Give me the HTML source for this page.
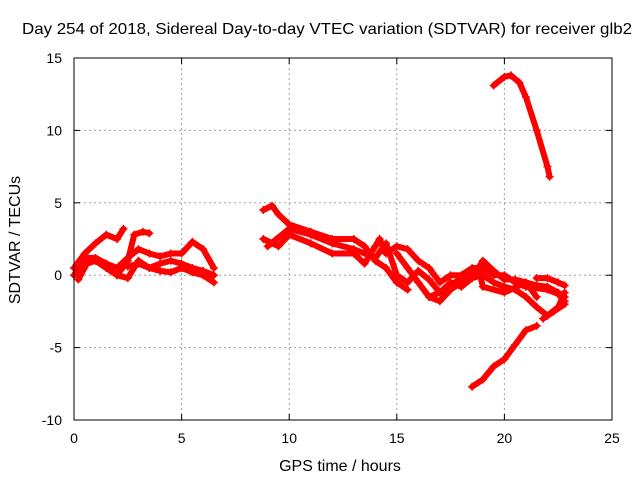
<!DOCTYPE html>
<html><head><meta charset="utf-8"><style>
body{margin:0;background:#fff;}
svg{display:block;font-family:"Liberation Sans",sans-serif;font-size:14px;}
</style></head><body>
<svg id="chart" width="640" height="480">
<rect x="0" y="0" width="640" height="480" fill="#fff"/>
<text x="22" y="34" font-size="16" textLength="610" lengthAdjust="spacingAndGlyphs">Day 254 of 2018, Sidereal Day-to-day VTEC variation (SDTVAR) for receiver glb2</text>
<text x="340" y="471" font-size="16" text-anchor="middle">GPS time / hours</text>
<text transform="translate(20,240) rotate(-90)" font-size="16" text-anchor="middle">SDTVAR / TECUs</text>
<g id="grid"></g><g id="ticks"></g><g id="series"></g>
<rect x="74" y="58" width="538" height="362" fill="none" stroke="#000" stroke-width="1"/>
</svg>
<script>
const xTicks=[0,5,10,15,20,25];
const yTicks=[-10,-5,0,5,10,15];
const tracks=[
[[0,0.5],[0.5,1.5],[1,2.2],[1.5,2.8],[2,2.5],[2.3,3.2]],
[[0,0],[0.5,1.2],[1,1.2],[1.5,0.8],[2,0.5],[2.5,1.2],[3,1.8],[3.5,1.5],[4,1.3],[4.5,1.5],[5,1.5],[5.5,2.3],[6,1.8],[6.5,0.5]],
[[0.2,-0.3],[0.6,0.8],[1,1],[1.5,0.5],[2,0],[2.5,-0.2],[3,1],[3.5,0.5],[4,0.3],[4.5,0.2],[5,0.5],[5.5,0.2],[6,0],[6.5,-0.5]],
[[2,0],[2.5,1],[2.8,2.8],[3.2,3],[3.5,2.9]],
[[2.5,0.6],[3,0.8],[3.5,0.5],[4,0.8],[4.5,1],[5,0.8],[5.5,0.5],[6,0.3],[6.5,0]],
[[8.8,4.5],[9.2,4.8],[9.5,4.2],[10,3.5],[11,3],[12,2.5],[13,2.5],[13.5,2],[14,1],[14.5,0.5],[15,-0.5],[15.5,-1]],
[[8.8,2.5],[9.5,2],[10,2.8],[11,2.2],[12,1.5],[13,1.5],[13.5,0.8],[14,2],[14.2,2.5],[14.5,1.5],[15,2],[15.5,1.8],[16,1],[16.5,0.5],[17,-0.5],[17.5,0],[18,0],[18.5,0.5],[19,0.5],[19.5,0],[20,0],[20.5,-0.5],[21,-0.8],[22,-1],[22.5,-1.3],[22.8,-1.8]],
[[9,2],[10,3.2],[11,2.8],[12,2.2],[13,1.8],[14,1.2],[14.5,2.2],[15,0],[15.5,-0.5],[16,0.3],[16.5,-0.3],[17,-1.2],[17.5,-0.5],[18,-0.8],[18.5,-0.2],[19,1],[19.5,0.3],[20,-0.3],[20.5,-0.3],[21,-0.5],[21.5,-0.7],[22,-0.8],[22.5,-1.2],[22.8,-1.5]],
[[15,1.5],[15.5,0.5],[16,-0.5],[16.5,-1.5],[17,-1.8],[17.5,-1],[18,-0.5],[18.5,-0.2],[19,0],[19.5,-0.5],[20,-0.8],[20.5,-1],[21,-1.5],[21.5,-2.2],[22,-2.8],[22.5,-2.2],[22.8,-1.2]],
[[16.5,-1.5],[17,-1.2],[18,-0.2],[18.8,0.5],[19,-0.8],[20,-1.2],[21,-0.5],[21.5,-1.5]],
[[21.5,-0.2],[22,-0.2],[22.5,-0.5],[22.8,-0.7]],
[[21.8,-3],[22.3,-2.5],[22.8,-2]],
[[18.5,-7.7],[19,-7.2],[19.5,-6.3],[20,-5.8],[20.5,-4.8],[21,-3.8],[21.5,-3.5]],
[[19.5,13.1],[20,13.7],[20.3,13.8],[20.7,13.3],[21,12.3],[21.5,10],[22,7.5],[22.1,6.8]]
];
const X0=74,X1=612,Y0=420,Y1=58;
const sx=v=>X0+(v-0)/(25-0)*(X1-X0);
const sy=v=>Y0-(v+10)/(25)*(Y0-Y1);
const NS="http://www.w3.org/2000/svg";
function mk(t,a,p){const e=document.createElementNS(NS,t);for(const k in a)e.setAttribute(k,a[k]);p.appendChild(e);return e;}
const grid=document.getElementById('grid'),ticks=document.getElementById('ticks'),ser=document.getElementById('series');
xTicks.forEach(t=>{const x=sx(t);
 if(t>0&&t<25){const g=mk('line',{x1:x,x2:x,y1:Y1,y2:Y0,stroke:'#a0a0a0','stroke-dasharray':'2,3'},grid);
 
 }
 mk('line',{x1:x,x2:x,y1:Y0,y2:Y0-6,stroke:'#000'},ticks);
 mk('line',{x1:x,x2:x,y1:Y1,y2:Y1+6,stroke:'#000'},ticks);
 const l=mk('text',{x:x,y:443,'text-anchor':'middle'},ticks);l.textContent=t;
 
 });
yTicks.forEach(t=>{const y=sy(t);
 if(t>-10&&t<15){const g=mk('line',{x1:X0,x2:X1,y1:y,y2:y,stroke:'#a0a0a0','stroke-dasharray':'2,3'},grid);
 
 }
 mk('line',{x1:X0,x2:X0+6,y1:y,y2:y,stroke:'#000'},ticks);
 mk('line',{x1:X1,x2:X1-6,y1:y,y2:y,stroke:'#000'},ticks);
 const l=mk('text',{x:62,y:y+5,'text-anchor':'end'},ticks);l.textContent=t;
 
 });
tracks.forEach((tr,i)=>{
 const pl=mk('polyline',{points:tr.map(p=>sx(p[0])+','+sy(p[1])).join(' '),fill:'none',stroke:'#f00','stroke-width':6,'stroke-linejoin':'round','stroke-linecap':'round'},ser);
 
 
 tr.forEach(p=>{const x=sx(p[0]),y=sy(p[1]);
  const m=mk('path',{d:`M${x-4},${y}H${x+4}M${x},${y-4}V${y+4}`,stroke:'#f00','stroke-width':1.5},ser);
  
  });
});
</script>
</body></html>
